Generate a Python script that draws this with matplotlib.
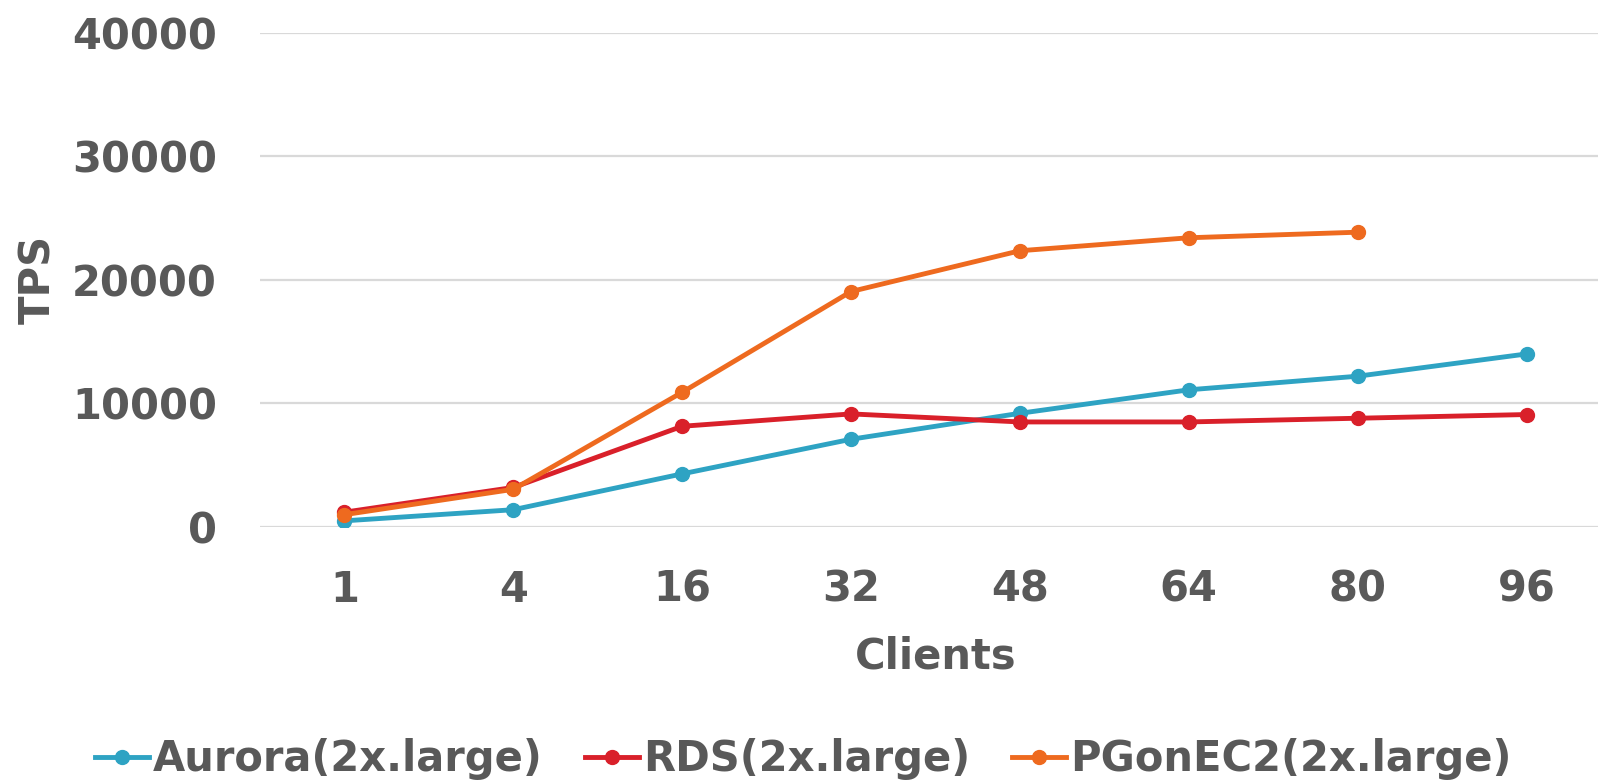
import matplotlib.pyplot as plt

clients = ["1", "4", "16", "32", "48", "64", "80", "96"]
aurora = [500, 1400, 4300, 7100, 9200, 11100, 12200, 14000]
rds = [1200, 3200, 8150, 9150, 8500, 8500, 8800, 9100]
pg_ec2 = [1000, 3050, 10900, 19050, 22350, 23400, 23850]

series = [
    ("Aurora(2x.large)", aurora, "#2EA3C3"),
    ("RDS(2x.large)", rds, "#D9202A"),
    ("PGonEC2(2x.large)", pg_ec2, "#EE6A1F"),
]

text_color = "#595959"
plt.rcParams['font.family'] = ['DejaVu Sans']
plt.rcParams['font.weight'] = 'bold'

fig = plt.figure(figsize=(15.98, 7.81), dpi=100)
ax = fig.add_axes([0.1627, 0.3252, 0.8454, 0.6331])

x = list(range(len(clients)))
for label, values, color in series:
    ax.plot(x[:len(values)], values, color=color, linewidth=3.5,
            marker='o', markersize=10, label=label)

ax.set_xlim(-0.5, len(clients) - 0.5)
ax.set_ylim(0, 40000)
ax.set_yticks([0, 10000, 20000, 30000, 40000])
ax.set_xticks(x)
ax.set_xticklabels(clients)
ax.grid(axis='y', color='#D9D9D9', linewidth=1.6)
ax.set_axisbelow(True)
for spine in ax.spines.values():
    spine.set_visible(False)
ax.tick_params(axis='both', length=0, labelsize=30, labelcolor=text_color)
ax.tick_params(axis='y', pad=31)
ax.tick_params(axis='x', pad=30)

ax.set_xlabel("Clients", fontsize=30, color=text_color, fontweight='bold', labelpad=18)
ax.set_ylabel("TPS", fontsize=30, color=text_color, fontweight='bold', labelpad=9)

fig.legend(loc='center', bbox_to_anchor=(0.5026, 0.028), ncol=3, frameon=False,
           fontsize=30, labelcolor=text_color, handlelength=1.3, handletextpad=0.1,
           columnspacing=1.0)

fig.savefig("out.png", dpi=100)
